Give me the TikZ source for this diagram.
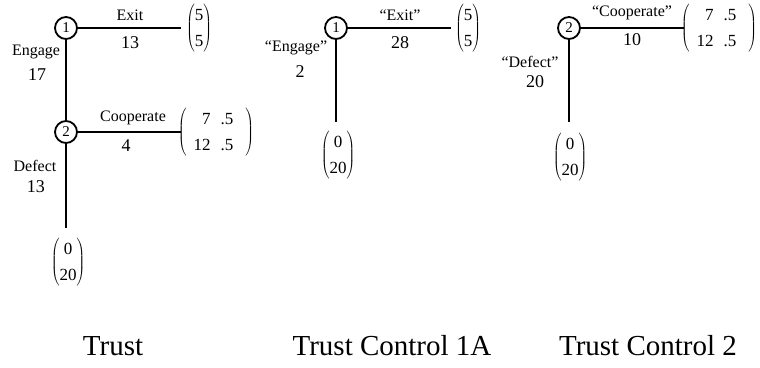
\documentclass[tikz,border=0pt]{standalone}
\usepackage{fontspec}
\setmainfont{Liberation Serif}
\newcommand\payoff[2]{$\left(\begin{tabular}{@{}c@{}}#1\\#2\end{tabular}\right)$}
\newcommand\halfpayoff{$\left(\begin{tabular}{@{\hspace{7pt}}r@{\hspace{10pt}}l@{\hspace{12pt}}}7&.5\\12&.5\end{tabular}\right)$}
\begin{document}
\begin{tikzpicture}[x=1pt,y=-1pt,
  decision/.style={circle,draw,line width=1.8pt,minimum size=22pt,inner sep=0pt,font=\fontsize{15}{15}\selectfont},
  branch/.style={line width=2.2pt},
  lbl/.style={font=\fontsize{16}{16}\selectfont,inner sep=0pt},
  num/.style={font=\fontsize{18}{18}\selectfont,inner sep=0pt},
  pay/.style={font=\fontsize{17}{26}\selectfont,inner sep=0pt},
  caption/.style={font=\fontsize{29}{29}\selectfont,inner sep=0pt,anchor=base}]
\useasboundingbox (0,0) rectangle (760,367);

% ---- Trust game ----
\node[decision] (a1) at (66,28) {1};
\node[decision] (a2) at (66,132) {2};
\coordinate (a1e) at (181,28);
\coordinate (a2e) at (181,132);
\coordinate (a2d) at (66,228);
\node[pay] (ap1) at (199,28) {\payoff{5}{5}};
\node[pay] (ap2) at (216,132) {\halfpayoff};
\node[pay] (ap3) at (68,262) {\payoff{0}{20}};
\draw[branch] (a1) -- (a1e);
\draw[branch] (a1) -- (a2);
\draw[branch] (a2) -- (a2e);
\draw[branch] (a2) -- (a2d);
\node[lbl] (aexit) at (130,15) {Exit};
\node[num] (aexitv) at (130,43) {13};
\node[lbl] (aeng) at (36,52) {Engage};
\node[num] (aengv) at (37,75) {17};
\node[lbl] (acoop) at (133,118) {Cooperate};
\node[num] (acoopv) at (126,146) {4};
\node[lbl] (adef) at (35,166) {Defect};
\node[num] (adefv) at (36,187) {13};
\node[caption] (acap) at (113,355) {Trust};

% ---- Trust Control 1A ----
\node[decision] (b1) at (336,28) {1};
\coordinate (b1e) at (451,28);
\coordinate (b1d) at (336,122);
\node[pay] (bp1) at (468,28) {\payoff{5}{5}};
\node[pay] (bp2) at (338,155) {\payoff{0}{20}};
\draw[branch] (b1) -- (b1e);
\draw[branch] (b1) -- (b1d);
\node[lbl] (bexit) at (400,15) {“Exit”};
\node[num] (bexitv) at (400,43) {28};
\node[lbl] (beng) at (296,48) {“Engage”};
\node[num] (bengv) at (300,72) {2};
\node[caption] (bcap) at (392,355) {Trust Control 1A};

% ---- Trust Control 2 ----
\node[decision] (c2) at (569,28) {2};
\coordinate (c2e) at (684,28);
\coordinate (c2d) at (569,122);
\node[pay] (cp1) at (719,28) {\halfpayoff};
\node[pay] (cp2) at (570,157) {\payoff{0}{20}};
\draw[branch] (c2) -- (c2e);
\draw[branch] (c2) -- (c2d);
\node[lbl] (ccoop) at (632,13) {“Cooperate”};
\node[num] (ccoopv) at (632,40) {10};
\node[lbl] (cdef) at (530,62) {“Defect”};
\node[num] (cdefv) at (535,82) {20};
\node[caption] (ccap) at (648,355) {Trust Control 2};
\end{tikzpicture}
\end{document}
